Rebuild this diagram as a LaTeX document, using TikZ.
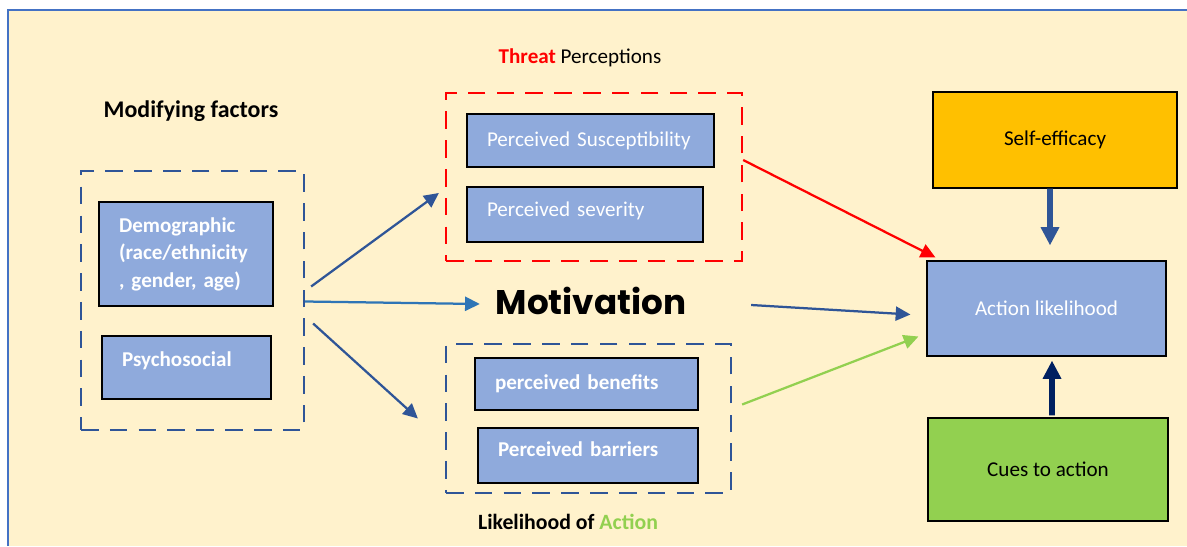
\documentclass[tikz,border=0pt]{standalone}
\usepackage{fontspec}
\setmainfont{Carlito}
\newfontfamily\motivfont{Poppins}
\usetikzlibrary{positioning,arrows.meta,calc}

\definecolor{bgcream}{HTML}{FFF2CC}
\definecolor{frameblue}{HTML}{4472C4}
\definecolor{dkblue}{HTML}{2F5597}
\definecolor{midblue}{HTML}{2E75B6}
\definecolor{boxblue}{HTML}{8FAADC}
\definecolor{gold}{HTML}{FFC000}
\definecolor{lime}{HTML}{92D050}
\definecolor{navy}{HTML}{002060}

% one unit of the picture
\newlength{\pxl}
\setlength{\pxl}{0.025cm}

\begin{document}
\begin{tikzpicture}[x=0.025cm,y=-0.025cm,font=\fontsize{15}{19}\selectfont,
  fbox/.style={draw=black,fill=boxblue,text=white,align=left,inner xsep=20\pxl,inner ysep=0pt,line width=0.8pt},
  cbox/.style={draw=black,fill=#1,align=center,inner sep=0pt,line width=0.8pt},
  grp/.style={draw=#1,dash pattern=on 12.5pt off 8pt,line width=1.6pt,inner sep=0pt},
  arr/.style={-{Triangle[length=10.5pt,width=10pt]},line width=1.6pt,draw=#1},
  bigarr/.style={-{Triangle[length=13pt,width=12.5pt]},line width=4pt,draw=#1}]
  \useasboundingbox (0,0) rectangle (1187,546);
  % panel
  \fill[bgcream] (8,10) rectangle (1187,546);
  \draw[frameblue,line width=1pt] (8,546) -- (8,10) -- (1187,10);

  % modifying factors
  \node[font=\fontsize{17}{20}\selectfont\bfseries] (modt) at (191,111) {Modifying factors};
  \node[grp=dkblue,minimum width=223\pxl,minimum height=259\pxl] (mods) at (192.5,300.5) {};
  \node[fbox,font=\fontsize{15}{19.5}\selectfont\bfseries,text width=134\pxl,minimum height=104\pxl] (demo) at (186,254)
    {Demographic\\(race/ethnicity\\, gender, age)};
  \node[fbox,font=\fontsize{15}{19}\selectfont\bfseries,text width=129\pxl,text depth=16\pxl,minimum height=63\pxl] (psych) at (186.5,367.5) {Psychosocial};

  % threat perceptions
  \node (thrt) at (580,58) {\textcolor{red}{\bfseries Threat} Perceptions};
  \node[grp=red,minimum width=296\pxl,minimum height=168\pxl] (threat) at (594,177) {};
  \node[fbox,text width=207\pxl,minimum height=53\pxl] (susc) at (590.5,140.5) {Perceived Susceptibility};
  \node[fbox,text width=196\pxl,text depth=10\pxl,minimum height=55\pxl] (sev) at (585,214.5) {Perceived severity};

  \node[font=\motivfont\fontsize{24.3}{27}\selectfont\bfseries] (motiv) at (591,301) {Motivation};

  % likelihood of action
  \node[grp=dkblue,minimum width=285\pxl,minimum height=149\pxl] (like) at (588.5,418.5) {};
  \node[fbox,font=\fontsize{15}{19}\selectfont\bfseries,text width=183\pxl,minimum height=52\pxl] (ben) at (586.5,384) {perceived benefits};
  \node[fbox,font=\fontsize{15}{19}\selectfont\bfseries,text width=180\pxl,text depth=12\pxl,minimum height=55\pxl] (bar) at (588,455.5) {Perceived barriers};
  \node[font=\fontsize{15.5}{19}\selectfont\bfseries] (liket) at (568,522) {Likelihood of \textcolor{lime}{Action}};

  % right column
  \node[cbox=gold,minimum width=244\pxl,minimum height=96\pxl] (self) at (1055,140) {Self-efficacy};
  \node[cbox=boxblue,text=white,minimum width=239\pxl,minimum height=95\pxl] (act) at (1046.5,308.5) {Action likelihood};
  \node[cbox=lime,minimum width=240\pxl,minimum height=103\pxl] (cues) at (1048,469.5) {Cues to action};

  % arrows
  \draw[arr=dkblue] ([shift={(6,-14)}]mods.east) -- ([shift={(-6,16)}]threat.west);
  \draw[arr=midblue] ([shift={(0,1)}]mods.east) -- ([shift={(-11,3)}]motiv.west);
  \draw[arr=dkblue] ([shift={(8,23)}]mods.east) -- ([shift={(-27,0)}]like.west);
  \draw[arr=red] ([shift={(0,-17)}]threat.east) -- ([shift={(9,-3)}]act.north west);
  \draw[arr=dkblue] ([shift={(60,4)}]motiv.east) -- ([shift={(-16,6)}]act.west);
  \draw[arr=lime] ([shift={(10,-14)}]like.east) -- ([shift={(-8,28)}]act.west);
  \draw[bigarr=dkblue] ([shift={(-5,0)}]self.south) -- ([shift={(3.5,-15)}]act.north);
  \draw[bigarr=navy] ([shift={(4,-2)}]cues.north) -- ([shift={(5.5,4)}]act.south);
\end{tikzpicture}
\end{document}
